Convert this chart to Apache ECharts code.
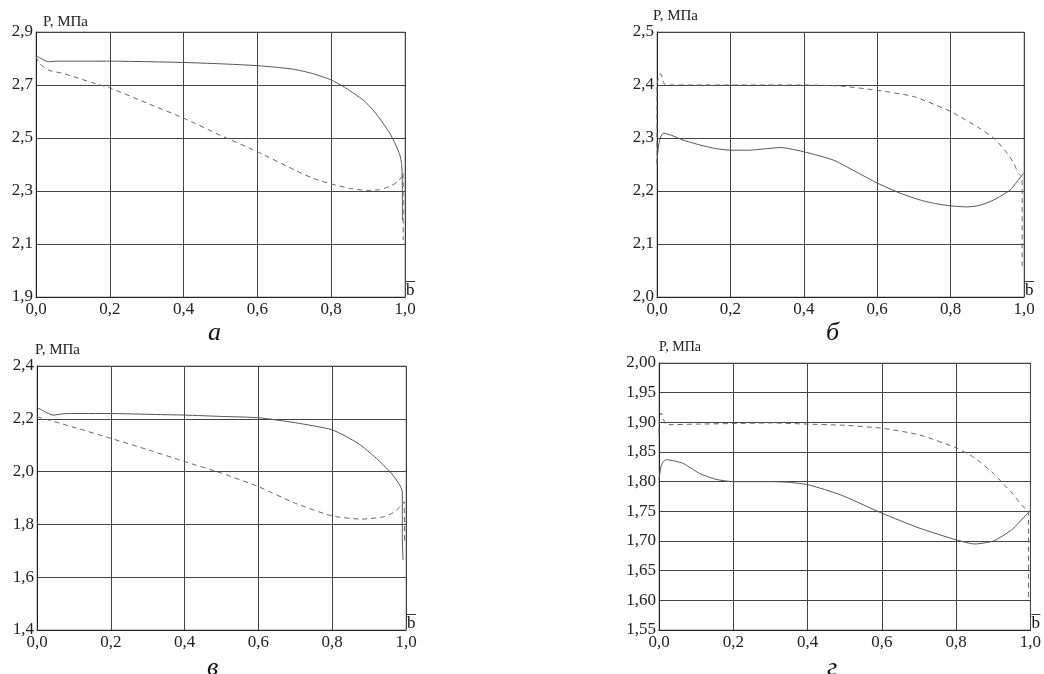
<!DOCTYPE html>
<html>
<head>
<meta charset="utf-8">
<script src="https://cdn.jsdelivr.net/npm/echarts@6/dist/echarts.min.js"></script>
<style>
html,body{margin:0;padding:0;background:#fff;}
#c{width:1044px;height:674px;}
</style>
</head>
<body>
<div id="c"></div>
<script>
// ---- Data ----
var xTicks = [0, 0.2, 0.4, 0.6, 0.8, 1.0];
var panelLetters = ['а', 'б', 'в', 'г'];
var yAxisName = 'P, МПа';
var xAxisName = '{o| }\n{b|b}';

// Panel а
var aSolidX = [0, 0.01, 0.033, 0.06, 0.1, 0.2, 0.3, 0.4, 0.5, 0.6, 0.65, 0.7, 0.75, 0.8, 0.84, 0.887, 0.915, 0.941, 0.96, 0.973, 0.986, 0.991, 0.993, 0.993];
var aSolidY = [2.81, 2.803, 2.788, 2.79, 2.79, 2.79, 2.788, 2.785, 2.78, 2.773, 2.767, 2.759, 2.743, 2.719, 2.688, 2.643, 2.603, 2.555, 2.515, 2.48, 2.436, 2.40, 2.30, 2.19];
var aDashX = [0, 0.01, 0.038, 0.07, 0.1, 0.15, 0.2, 0.3, 0.4, 0.5, 0.6, 0.7, 0.75, 0.8, 0.85, 0.9, 0.93, 0.96, 0.98, 0.991, 0.995, 0.995];
var aDashY = [2.807, 2.78, 2.754, 2.745, 2.732, 2.71, 2.689, 2.632, 2.575, 2.51, 2.448, 2.38, 2.348, 2.327, 2.31, 2.302, 2.305, 2.318, 2.335, 2.354, 2.37, 2.115];

// Panel б
var bSolidX = [0, 0.004, 0.01, 0.018, 0.04, 0.071, 0.116, 0.16, 0.2, 0.25, 0.3, 0.337, 0.4, 0.482, 0.54, 0.6, 0.662, 0.717, 0.76, 0.8, 0.845, 0.88, 0.917, 0.962, 0.998];
var bSolidY = [2.253, 2.285, 2.302, 2.309, 2.305, 2.296, 2.287, 2.28, 2.277, 2.277, 2.28, 2.282, 2.274, 2.258, 2.237, 2.215, 2.196, 2.183, 2.176, 2.172, 2.170, 2.173, 2.183, 2.202, 2.233];
var bDashX = [0, 0, 0.005, 0.01, 0.023, 0.1, 0.2, 0.3, 0.4, 0.5, 0.6, 0.7, 0.8, 0.88, 0.917, 0.948, 0.97, 0.985, 0.995, 0.995];
var bDashY = [2.25, 2.40, 2.415, 2.421, 2.40, 2.40, 2.40, 2.40, 2.40, 2.398, 2.39, 2.378, 2.35, 2.318, 2.30, 2.277, 2.255, 2.233, 2.225, 2.057];

// Panel в
var cSolidX = [0, 0.02, 0.043, 0.08, 0.2, 0.3, 0.4, 0.5, 0.6, 0.7, 0.8, 0.87, 0.92, 0.96, 0.98, 0.99, 0.99, 0.992];
var cSolidY = [2.243, 2.228, 2.214, 2.22, 2.22, 2.217, 2.214, 2.209, 2.204, 2.185, 2.158, 2.107, 2.05, 1.994, 1.956, 1.924, 1.75, 1.665];
var cDashX = [0, 0.1, 0.2, 0.3, 0.4, 0.5, 0.6, 0.7, 0.8, 0.88, 0.94, 0.97, 0.995, 0.996];
var cDashY = [2.208, 2.168, 2.126, 2.083, 2.038, 1.994, 1.943, 1.88, 1.832, 1.82, 1.829, 1.848, 1.886, 1.728];

// Panel г
var dSolidX = [0, 0.005, 0.012, 0.02, 0.064, 0.109, 0.153, 0.2, 0.3, 0.35, 0.4, 0.45, 0.5, 0.6, 0.7, 0.8, 0.85, 0.9, 0.95, 0.99, 1.0];
var dSolidY = [1.803, 1.825, 1.834, 1.837, 1.831, 1.814, 1.804, 1.80, 1.80, 1.799, 1.795, 1.786, 1.775, 1.747, 1.722, 1.702, 1.695, 1.70, 1.719, 1.745, 1.752];
var dDashX = [0, 0.001, 0.006, 0.02, 0.1, 0.2, 0.3, 0.4, 0.5, 0.6, 0.7, 0.8, 0.85, 0.9, 0.95, 0.98, 0.995, 0.995];
var dDashY = [1.882, 1.905, 1.916, 1.896, 1.897, 1.898, 1.899, 1.897, 1.895, 1.89, 1.879, 1.857, 1.84, 1.814, 1.781, 1.758, 1.75, 1.60];

// y axis ranges
var yMin = [1.9, 2.0, 1.4, 1.55];
var yMax = [2.9, 2.5, 2.4, 2.00];
var yStep = [0.2, 0.1, 0.2, 0.05];
var yDigits = [1, 1, 1, 2];

function zip(xs, ys) { return xs.map(function (x, i) { return [x, ys[i]]; }); }

var grids = [
  {left: 36, top: 32, width: 369, height: 265},
  {left: 657, top: 32, width: 367, height: 265},
  {left: 37, top: 366, width: 369, height: 264},
  {left: 659, top: 363, width: 373, height: 267}
];
var nameOffsets = [7, -4, -2, 0];
var nameSizes = [15, 15, 15, 14];

var serif = '"Liberation Serif", "DejaVu Serif", serif';

var option = {
  backgroundColor: '#fff',
  animation: false,
  grid: grids.map(function (g) {
    return Object.assign({show: true, borderColor: '#999', borderWidth: 1, containLabel: false}, g);
  }),
  xAxis: grids.map(function (g, i) {
    return {
      type: 'value', gridIndex: i, min: 0, max: 1, interval: 0.2,
      name: xAxisName, nameLocation: 'end', nameGap: 1,
      nameTextStyle: {
        align: 'left', verticalAlign: 'bottom', padding: [0, 0, 0, 0],
        rich: {
          o: {width: 9, height: 1, lineHeight: 5, fontSize: 1, backgroundColor: '#333', padding: 0},
          b: {fontFamily: serif, fontSize: 17, lineHeight: 13, color: '#111', padding: [0, 0, 0, 0]}
        }
      },
      axisLine: {show: true, lineStyle: {color: '#222', width: 1}},
      axisTick: {show: false},
      axisLabel: {fontFamily: serif, fontSize: 17, color: '#222', margin: 4,
        formatter: function (v) { return v.toFixed(1).replace('.', ','); }},
      splitLine: {show: true, lineStyle: {color: '#444', width: 1}}
    };
  }),
  yAxis: grids.map(function (g, i) {
    return {
      type: 'value', gridIndex: i, min: yMin[i], max: yMax[i], interval: yStep[i],
      name: yAxisName, nameLocation: 'end', nameGap: 2,
      nameTextStyle: {fontFamily: serif, fontSize: nameSizes[i], color: '#222', align: 'left', verticalAlign: 'bottom', padding: [0, 0, 0, nameOffsets[i]]},
      axisLine: {show: true, lineStyle: {color: '#222', width: 1}},
      axisTick: {show: false},
      axisLabel: {fontFamily: serif, fontSize: 17, color: '#222', margin: 3,
        formatter: function (v) { return v.toFixed(yDigits[i]).replace('.', ','); }},
      splitLine: {show: true, lineStyle: {color: '#444', width: 1}}
    };
  }),
  graphic: [
    {type: 'text', left: 208, top: 320, style: {text: panelLetters[0], font: 'italic 26px ' + serif, fill: '#111'}},
    {type: 'text', left: 826, top: 320, style: {text: panelLetters[1], font: 'italic 26px ' + serif, fill: '#111'}},
    {type: 'text', left: 207, top: 655, style: {text: panelLetters[2], font: 'italic 26px ' + serif, fill: '#111'}},
    {type: 'text', left: 827, top: 655, style: {text: panelLetters[3], font: 'italic 26px ' + serif, fill: '#111'}}
  ],
  series: []
};

var solids = [zip(aSolidX, aSolidY), zip(bSolidX, bSolidY), zip(cSolidX, cSolidY), zip(dSolidX, dSolidY)];
var dashes = [zip(aDashX, aDashY), zip(bDashX, bDashY), zip(cDashX, cDashY), zip(dDashX, dDashY)];
for (var i = 0; i < 4; i++) {
  option.series.push({
    type: 'line', xAxisIndex: i, yAxisIndex: i, data: solids[i], showSymbol: false,
    smooth: 0.2,
    lineStyle: {color: '#555', width: 1, type: 'solid'}, z: 5
  });
  option.series.push({
    type: 'line', xAxisIndex: i, yAxisIndex: i, data: dashes[i], showSymbol: false,
    smooth: 0.2,
    lineStyle: {color: '#666', width: 1, type: [5, 4]}, z: 5
  });
}

var chart = echarts.init(document.getElementById('c'));
chart.setOption(option);
</script>
</body>
</html>
